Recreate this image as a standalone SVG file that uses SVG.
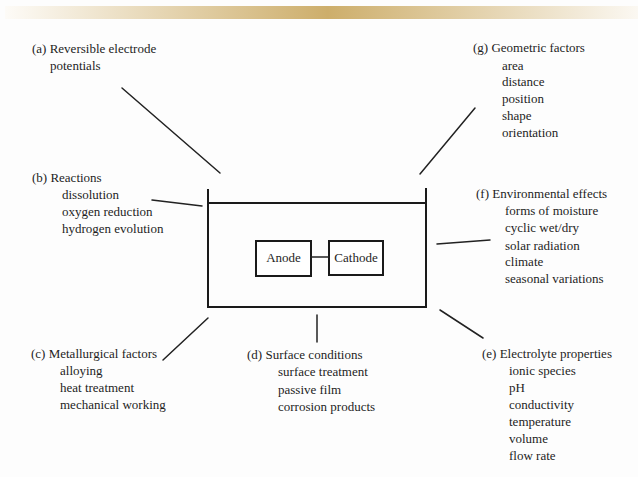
<svg xmlns="http://www.w3.org/2000/svg" width="638" height="477" viewBox="0 0 638 477">
<defs>
<linearGradient id="bar" x1="0" y1="0" x2="1" y2="0">
<stop offset="0" stop-color="#fdfbf7"/>
<stop offset="0.51" stop-color="#cdae6b"/>
<stop offset="1" stop-color="#fbf8f2"/>
</linearGradient>
<style>
text{font-family:"Liberation Serif","Times New Roman",serif;font-size:13px;fill:#1e1e1e}
.c{stroke:#222;stroke-width:1.5;fill:none;stroke-linecap:round}
.w{stroke:#1a1a1a;stroke-width:2;fill:none}
.b{stroke:#1a1a1a;stroke-width:2;fill:#fff}
</style>
</defs>
<rect width="638" height="477" fill="#fdfdfd"/>
<rect x="5" y="6" width="633" height="13" fill="url(#bar)"/>
<g id="tank">
<path class="w" d="M208 189 V307 H426 V188 M208 203 H426"/>
</g>
<g id="anode">
<rect class="b" x="256" y="241" width="55" height="35"/>
<text x="283.5" y="262" text-anchor="middle">Anode</text>
</g>
<g id="cathode">
<rect class="b" x="329" y="241" width="54" height="34"/>
<text x="356" y="262" text-anchor="middle">Cathode</text>
</g>
<g id="connectors">
<line class="c" x1="311" y1="257" x2="329" y2="257"/>
<line class="c" x1="122" y1="88" x2="220" y2="173"/>
<line class="c" x1="152" y1="200" x2="202" y2="206"/>
<line class="c" x1="475" y1="108" x2="420" y2="174"/>
<line class="c" x1="437" y1="244" x2="490" y2="240"/>
<line class="c" x1="163" y1="360" x2="208" y2="318"/>
<line class="c" x1="317" y1="315" x2="317" y2="342"/>
<line class="c" x1="440" y1="310" x2="483" y2="338"/>
</g>
<g id="a">
<text x="32" y="53">(a) Reversible electrode</text>
<text x="50" y="70">potentials</text>
</g>
<g id="b">
<text x="32" y="182">(b) Reactions</text>
<text x="62" y="199">dissolution</text>
<text x="62" y="216">oxygen reduction</text>
<text x="62" y="233">hydrogen evolution</text>
</g>
<g id="g">
<text x="473" y="52">(g) Geometric factors</text>
<text x="502" y="70">area</text>
<text x="502" y="86">distance</text>
<text x="502" y="103">position</text>
<text x="502" y="120">shape</text>
<text x="502" y="137">orientation</text>
</g>
<g id="f">
<text x="476" y="198">(f) Environmental effects</text>
<text x="505" y="215">forms of moisture</text>
<text x="505" y="232">cyclic wet/dry</text>
<text x="505" y="250">solar radiation</text>
<text x="505" y="266">climate</text>
<text x="505" y="283">seasonal variations</text>
</g>
<g id="c">
<text x="31" y="358">(c) Metallurgical factors</text>
<text x="60" y="375">alloying</text>
<text x="60" y="392">heat treatment</text>
<text x="60" y="409">mechanical working</text>
</g>
<g id="d">
<text x="247" y="359">(d) Surface conditions</text>
<text x="278" y="376">surface treatment</text>
<text x="278" y="394">passive film</text>
<text x="278" y="411">corrosion products</text>
</g>
<g id="e">
<text x="482" y="358">(e) Electrolyte properties</text>
<text x="509" y="375">ionic species</text>
<text x="509" y="392">pH</text>
<text x="509" y="409">conductivity</text>
<text x="509" y="426">temperature</text>
<text x="509" y="443">volume</text>
<text x="509" y="460">flow rate</text>
</g>
</svg>
